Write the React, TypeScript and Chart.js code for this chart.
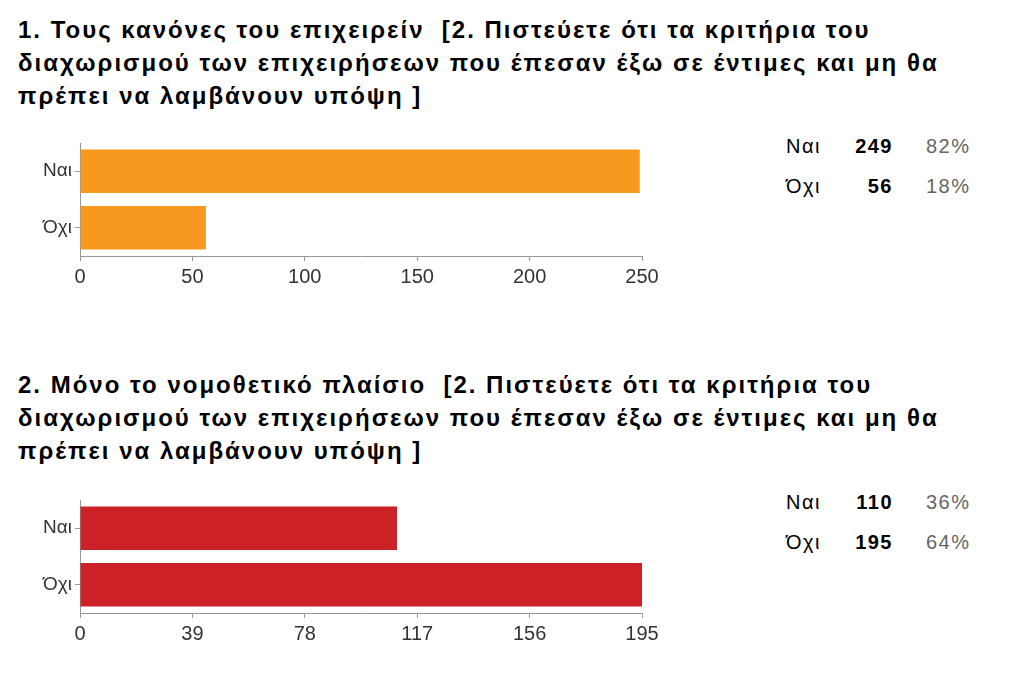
import React, { useEffect, useRef } from "react";
import { Chart, registerables } from "chart.js";

Chart.register(...registerables);

const categories = ["Ναι", "Όχι"];
const q1Values = [249, 56];
const q1Percents = ["82%", "18%"];
const q1Max = 250;
const q1Step = 50;
const q2Values = [110, 195];
const q2Percents = ["36%", "64%"];
const q2Max = 195;
const q2Step = 39;

const title1Lines = [
  "1. Τους κανόνες του επιχειρείν  [2. Πιστεύετε ότι τα κριτήρια του",
  "διαχωρισμού των επιχειρήσεων που έπεσαν έξω σε έντιμες και μη θα",
  "πρέπει να λαμβάνουν υπόψη ]",
];
const title2Lines = [
  "2. Μόνο το νομοθετικό πλαίσιο  [2. Πιστεύετε ότι τα κριτήρια του",
  "διαχωρισμού των επιχειρήσεων που έπεσαν έξω σε έντιμες και μη θα",
  "πρέπει να λαμβάνουν υπόψη ]",
];

const FONT = "'Liberation Sans', Arial, sans-serif";

function BarChart({ values, max, step, color, top }: { values: number[]; max: number; step: number; color: string; top: number }) {
  const ref = useRef<HTMLCanvasElement>(null);
  useEffect(() => {
    const chart = new Chart(ref.current!, {
      type: "bar",
      data: {
        labels: categories,
        datasets: [{ data: values, backgroundColor: color, borderWidth: 0, categoryPercentage: 0.77, barPercentage: 1 }],
      },
      options: {
        indexAxis: "y",
        animation: false,
        responsive: false,
        maintainAspectRatio: false,
        layout: { padding: { top: 3, right: 38, left: 0, bottom: 0 } },
        plugins: { legend: { display: false }, tooltip: { enabled: false } },
        scales: {
          x: {
            min: 0,
            max,
            afterFit: (s: any) => { s.height = 40; s.paddingLeft = 0; s.paddingRight = 0; },
            afterBuildTicks: (s: any) => {
              const t = [];
              for (let v = 0; v <= max; v += step) t.push({ value: v });
              s.ticks = t;
            },
            ticks: { color: "#333", font: { family: FONT, size: 20 }, padding: 4, maxRotation: 0, autoSkip: false },
            grid: { display: true, drawOnChartArea: false, drawTicks: true, tickLength: 5, color: "#999" },
            border: { display: true, color: "#999" },
          },
          y: {
            afterFit: (s: any) => { s.width = 80; s.paddingTop = 0; s.paddingBottom = 0; },
            ticks: { color: "#333", font: { family: FONT, size: 19 }, padding: 3 },
            grid: { display: true, drawOnChartArea: false, drawTicks: true, tickLength: 5, color: "#999", offset: false },
            border: { display: true, color: "#999" },
          },
        },
      },
    });
    return () => chart.destroy();
  }, []);
  return (
    <canvas ref={ref} width={680} height={156} style={{ position: "absolute", left: 0, top, width: 680, height: 156 }} />
  );
}

function Title({ lines, top }: { lines: string[]; top: number }) {
  return (
    <div style={{ position: "absolute", left: 18, top, fontFamily: FONT, fontWeight: "bold", fontSize: 24, letterSpacing: 2, lineHeight: "33px", color: "#000", whiteSpace: "pre" }}>
      {lines.map((l, i) => (<div key={i}>{l}</div>))}
    </div>
  );
}

function Table({ values, percents, top }: { values: number[]; percents: string[]; top: number }) {
  return (
    <div style={{ position: "absolute", left: 786, top, fontFamily: FONT, fontSize: 20 }}>
      {categories.map((c, i) => (
        <div key={c} style={{ position: "absolute", top: i * 40, left: 0, width: 200, height: 24, letterSpacing: 1.5 }}>
          <span style={{ position: "absolute", left: 0, color: "#000" }}>{c}</span>
          <span style={{ position: "absolute", right: 200 - 107, fontWeight: "bold", color: "#000" }}>{values[i]}</span>
          <span style={{ position: "absolute", left: 140, color: "#666" }}>{percents[i]}</span>
        </div>
      ))}
    </div>
  );
}

export default function App() {
  return (
    <div style={{ position: "absolute", left: 0, top: 0, width: 1024, height: 689 }}>
      <Title lines={title1Lines} top={13} />
      <BarChart values={q1Values} max={q1Max} step={q1Step} color="#f7991e" top={140} />
      <Table values={q1Values} percents={q1Percents} top={135} />
      <Title lines={title2Lines} top={368} />
      <BarChart values={q2Values} max={q2Max} step={q2Step} color="#cd2128" top={497} />
      <Table values={q2Values} percents={q2Percents} top={491} />
    </div>
  );
}
